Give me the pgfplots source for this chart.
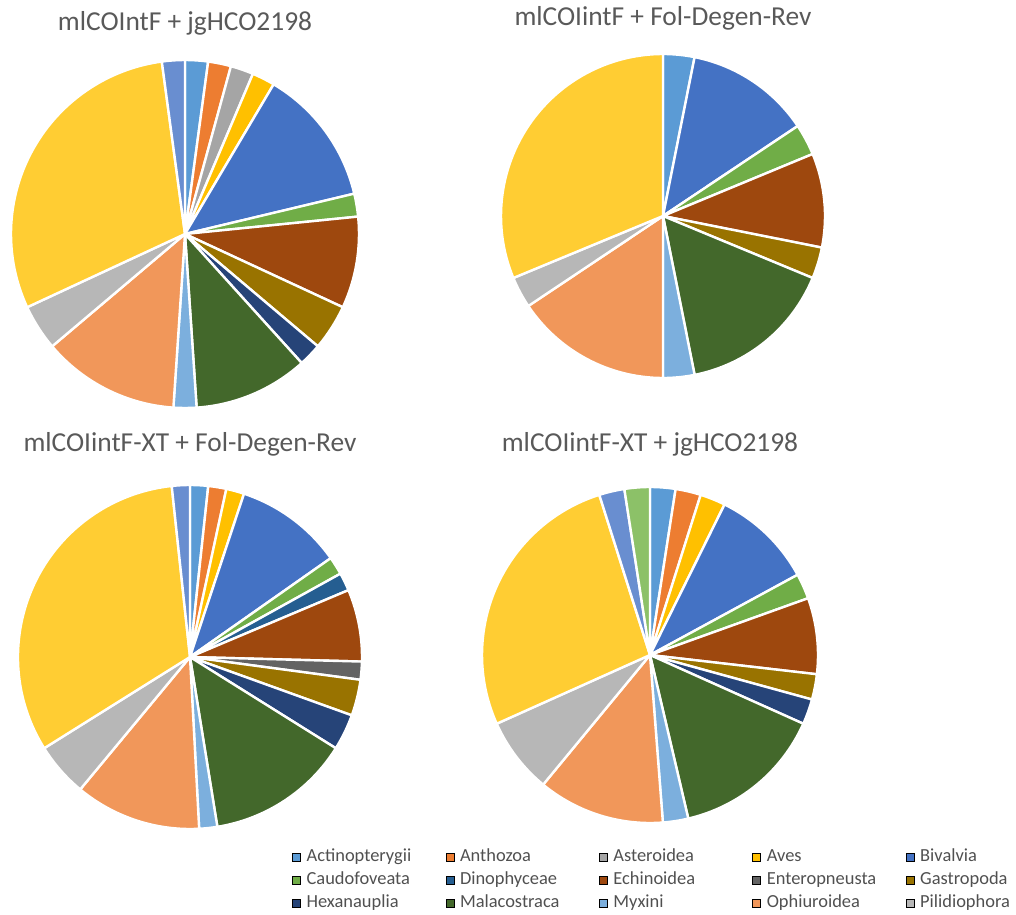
\documentclass[border=0pt]{standalone}
\usepackage{fontspec}
\setmainfont{Carlito}
\usepackage{pgfplots}
\usepackage{pgfplotstable}
\pgfplotsset{compat=1.18}

% slice colours, one per taxon
\definecolor{Actinopterygii}{HTML}{5B9BD5}
\definecolor{Anthozoa}{HTML}{ED7D31}
\definecolor{Asteroidea}{HTML}{A5A5A5}
\definecolor{Aves}{HTML}{FFC000}
\definecolor{Bivalvia}{HTML}{4472C4}
\definecolor{Caudofoveata}{HTML}{70AD47}
\definecolor{Dinophyceae}{HTML}{255E91}
\definecolor{Echinoidea}{HTML}{9E480E}
\definecolor{Enteropneusta}{HTML}{636363}
\definecolor{Gastropoda}{HTML}{997300}
\definecolor{Hexanauplia}{HTML}{264478}
\definecolor{Malacostraca}{HTML}{43682B}
\definecolor{Myxini}{HTML}{7CAFDD}
\definecolor{Ophiuroidea}{HTML}{F1975A}
\definecolor{Pilidiophora}{HTML}{B7B7B7}
\definecolor{Polychaeta}{HTML}{FFCD33}
\definecolor{Porifera}{HTML}{698ED0}
\definecolor{Priapulida}{HTML}{8CC168}
\definecolor{titlegray}{HTML}{595959}
\definecolor{legendgray}{HTML}{505050}

% number of reads per taxon for each primer pair
\pgfplotstableread{
taxon n
Actinopterygii 1
Anthozoa 1
Asteroidea 1
Aves 1
Bivalvia 6
Caudofoveata 1
Echinoidea 4
Gastropoda 2
Hexanauplia 1
Malacostraca 5
Myxini 1
Ophiuroidea 6
Pilidiophora 2
Polychaeta 14
Porifera 1
}\pieA

\pgfplotstableread{
taxon n
Actinopterygii 1
Bivalvia 4
Caudofoveata 1
Echinoidea 3
Gastropoda 1
Malacostraca 5
Myxini 1
Ophiuroidea 5
Pilidiophora 1
Polychaeta 10
}\pieB

\pgfplotstableread{
taxon n
Actinopterygii 1
Anthozoa 1
Aves 1
Bivalvia 6
Caudofoveata 1
Dinophyceae 1
Echinoidea 4
Enteropneusta 1
Gastropoda 2
Hexanauplia 2
Malacostraca 8
Myxini 1
Ophiuroidea 7
Pilidiophora 3
Polychaeta 19
Porifera 1
}\pieC

\pgfplotstableread{
taxon n
Actinopterygii 1
Anthozoa 1
Aves 1
Bivalvia 4
Caudofoveata 1
Echinoidea 3
Gastropoda 1
Hexanauplia 1
Malacostraca 6
Myxini 1
Ophiuroidea 5
Pilidiophora 3
Polychaeta 11
Porifera 1
Priapulida 1
}\pieD

% draws the wedges of table #1 clockwise from 12 o'clock, radius #2 (bp)
\newcommand\piewedges[2]{%
  \pgfplotstablecreatecol[create col/expr accum={\pgfmathaccuma+\thisrow{n}}{0}]{cum}{#1}%
  \pgfplotstablegetrowsof{#1}%
  \pgfmathtruncatemacro\lastrow{\pgfplotsretval-1}%
  \pgfplotstablegetelem{\lastrow}{cum}\of{#1}\let\pietotal\pgfplotsretval
  \pgfplotsforeachungrouped \i in {0,...,\lastrow}{%
    \pgfplotstablegetelem{\i}{cum}\of{#1}\let\piecum\pgfplotsretval
    \pgfplotstablegetelem{\i}{n}\of{#1}\let\piecount\pgfplotsretval
    \pgfplotstablegetelem{\i}{taxon}\of{#1}\let\pietaxon\pgfplotsretval
    \pgfmathsetmacro\pieS{90-(\piecum-\piecount)/\pietotal*360}%
    \pgfmathsetmacro\pieE{90-\piecum/\pietotal*360}%
    \edef\piecmd{\noexpand\filldraw[fill=\pietaxon, draw=white, line width=2.4bp, line join=round]
      (axis cs:0,0) -- ++(\pieS:#2bp) arc[start angle=\pieS, end angle=\pieE, radius=#2bp] -- cycle;}%
    \piecmd
  }%
}

\pgfplotsset{
  pie axis/.style={hide axis, scale only axis, width=#1, height=#1,
    xmin=-1, xmax=1, ymin=-1, ymax=1, anchor=center, clip=false,
    title style={font=\fontsize{27.5}{33}\selectfont, text=titlegray,
      anchor=center, at={(axis description cs:0.5,1)}}},
}

\begin{document}
\begin{tikzpicture}
\path[use as bounding box] (0,0) rectangle (1016bp,-915bp);

\begin{axis}[pie axis=348bp, at={(185bp,-234bp)},
  title={mlCOIntF + jgHCO2198}, title style={yshift=31bp}]
\piewedges{\pieA}{174}
\end{axis}

\begin{axis}[pie axis=324bp, at={(663bp,-216bp)},
  title={mlCOIintF + Fol-Degen-Rev}, title style={yshift=30bp}]
\piewedges{\pieB}{162}
\end{axis}

\begin{axis}[pie axis=344bp, at={(190bp,-657bp)},
  title={mlCOIintF-XT + Fol-Degen-Rev}, title style={yshift=35bp}]
\piewedges{\pieC}{172}
\end{axis}

\begin{axis}[pie axis=336bp, at={(650bp,-655bp)},
  title={mlCOIintF-XT + jgHCO2198}, title style={yshift=37bp}]
\piewedges{\pieD}{168}
\end{axis}

% shared legend
\begin{axis}[at={(0bp,-915bp)}, anchor=south west, width=1016bp, height=915bp,
  scale only axis, hide axis, xmin=0, xmax=1, ymin=0, ymax=1,
  legend columns=5,
  legend style={at={(0.2874,0.0727)}, anchor=north west, draw=none, fill=none,
    font=\fontsize{18.5}{22}\selectfont, text=legendgray, inner sep=0pt,
    row sep=6bp,
    nodes={inner sep=0pt, text height=13bp, text depth=4bp},
    /tikz/every even column/.append style={column sep=0pt},
    /tikz/every odd column/.append style={column sep=6bp}},
  legend image code/.code={\fill[#1] (0bp,-4bp) rectangle (8bp,4bp);}]
\addlegendimage{fill=Actinopterygii}\addlegendentry{\makebox[139bp][l]{Actinopterygii}}
\addlegendimage{fill=Anthozoa}\addlegendentry{\makebox[139bp][l]{Anthozoa}}
\addlegendimage{fill=Asteroidea}\addlegendentry{\makebox[139bp][l]{Asteroidea}}
\addlegendimage{fill=Aves}\addlegendentry{\makebox[139bp][l]{Aves}}
\addlegendimage{fill=Bivalvia}\addlegendentry{\makebox[100bp][l]{Bivalvia}}
\addlegendimage{fill=Caudofoveata}\addlegendentry{\makebox[139bp][l]{Caudofoveata}}
\addlegendimage{fill=Dinophyceae}\addlegendentry{\makebox[139bp][l]{Dinophyceae}}
\addlegendimage{fill=Echinoidea}\addlegendentry{\makebox[139bp][l]{Echinoidea}}
\addlegendimage{fill=Enteropneusta}\addlegendentry{\makebox[139bp][l]{Enteropneusta}}
\addlegendimage{fill=Gastropoda}\addlegendentry{\makebox[100bp][l]{Gastropoda}}
\addlegendimage{fill=Hexanauplia}\addlegendentry{\makebox[139bp][l]{Hexanauplia}}
\addlegendimage{fill=Malacostraca}\addlegendentry{\makebox[139bp][l]{Malacostraca}}
\addlegendimage{fill=Myxini}\addlegendentry{\makebox[139bp][l]{Myxini}}
\addlegendimage{fill=Ophiuroidea}\addlegendentry{\makebox[139bp][l]{Ophiuroidea}}
\addlegendimage{fill=Pilidiophora}\addlegendentry{\makebox[100bp][l]{Pilidiophora}}
\end{axis}
\end{tikzpicture}
\end{document}
